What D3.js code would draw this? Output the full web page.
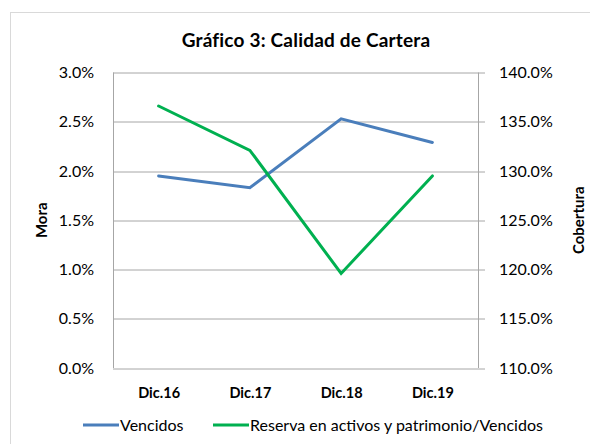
<!DOCTYPE html>
<html>
<head>
    <meta charset="utf-8">
    <title>Gráfico 3</title>
    <script src="https://cdn.jsdelivr.net/npm/d3@7/dist/d3.min.js"></script>
    <style>
        body { margin: 0; background: #fff; }
        svg text { font-family: Lato, "Open Sans", sans-serif; fill: #000; }
    </style>
</head>
<body>
    <svg width="590" height="444"></svg>

    <script>
        // datos
        var periodos = ["Dic.16", "Dic.17", "Dic.18", "Dic.19"];
        var vencidos = [1.95, 1.83, 2.53, 2.29];          // Mora, eje izquierdo
        var reserva = [136.6, 132.1, 119.6, 129.5];       // Cobertura, eje derecho
        var ticksMora = [0, 0.5, 1, 1.5, 2, 2.5, 3];
        var ticksCob = [110, 115, 120, 125, 130, 135, 140];

        var svg = d3.select("svg");
        var marge = { top: 72.5, bottom: 76, left: 113, right: 112 };
        var width = 590 - marge.left - marge.right;
        var height = 444 - marge.top - marge.bottom;

        // marco exterior
        svg.append("rect")
            .attr("x", 10.5).attr("y", 12.5)
            .attr("width", 600).attr("height", 460)
            .attr("fill", "none").attr("stroke", "#d9d9d9");

        svg.append("text")
            .attr("x", 306).attr("y", 47)
            .attr("text-anchor", "middle")
            .attr("font-size", 19).attr("font-weight", "bold")
            .attr("letter-spacing", 0.2)
            .text("Gráfico 3: Calidad de Cartera");

        var g = svg.append("g")
            .attr("transform", "translate(" + marge.left + "," + marge.top + ")");

        var x = d3.scalePoint().domain(periodos).range([0, width]).padding(0.5);
        var yL = d3.scaleLinear().domain([0, 3]).range([height, 0]);
        var yR = d3.scaleLinear().domain([110, 140]).range([height, 0]);

        // lineas de cuadricula
        g.append("g").selectAll("line")
            .data(ticksMora)
            .enter().append("line")
            .attr("x1", 0).attr("x2", width + 7)
            .attr("y1", function (d) { return Math.round(yL(d)) + 0.5; })
            .attr("y2", function (d) { return Math.round(yL(d)) + 0.5; })
            .attr("stroke", "#a6a6a6").attr("stroke-width", 1);

        g.append("line")
            .attr("x1", 0.5).attr("x2", 0.5).attr("y1", 0).attr("y2", height)
            .attr("stroke", "#a6a6a6");
        g.append("line")
            .attr("x1", width + 0.5).attr("x2", width + 0.5).attr("y1", 0).attr("y2", height)
            .attr("stroke", "#a6a6a6");

        // eje izquierdo
        var axisL = g.append("g")
            .call(d3.axisLeft(yL).tickValues(ticksMora).tickSize(0).tickPadding(19)
                .tickFormat(function (d) { return d.toFixed(1) + "%"; }));
        axisL.select(".domain").remove();

        // eje derecho
        var axisR = g.append("g")
            .attr("transform", "translate(" + width + ",0)")
            .call(d3.axisRight(yR).tickValues(ticksCob).tickSize(0).tickPadding(21)
                .tickFormat(function (d) { return d.toFixed(1) + "%"; }));
        axisR.select(".domain").remove();

        // eje x
        var axisX = g.append("g")
            .attr("transform", "translate(0," + height + ")")
            .call(d3.axisBottom(x).tickSize(0).tickPadding(20));
        axisX.select(".domain").remove();

        svg.selectAll(".tick text")
            .attr("font-family", "Lato, 'Open Sans', sans-serif")
            .attr("font-size", 16)
            .attr("fill", "#000");
        axisX.selectAll("text").attr("font-weight", "bold").attr("font-size", 14.5);

        svg.append("text")
            .attr("transform", "translate(47," + (marge.top + height / 2) + ") rotate(-90)")
            .attr("text-anchor", "middle")
            .attr("font-size", 15).attr("font-weight", "bold")
            .text("Mora");
        svg.append("text")
            .attr("transform", "translate(584," + (marge.top + height / 2) + ") rotate(-90)")
            .attr("text-anchor", "middle")
            .attr("font-size", 15).attr("font-weight", "bold")
            .text("Cobertura");

        var lineaL = d3.line()
            .x(function (d, i) { return x(periodos[i]); })
            .y(function (d) { return yL(d); });
        var lineaR = d3.line()
            .x(function (d, i) { return x(periodos[i]); })
            .y(function (d) { return yR(d); });

        g.append("path").datum(vencidos)
            .attr("d", lineaL)
            .attr("fill", "none").attr("stroke", "#4a7ebb")
            .attr("stroke-width", 3).attr("stroke-linecap", "round");
        g.append("path").datum(reserva)
            .attr("d", lineaR)
            .attr("fill", "none").attr("stroke", "#00b050")
            .attr("stroke-width", 3).attr("stroke-linecap", "round");

        // leyenda
        var leyenda = [
            { nombre: "Vencidos", color: "#4a7ebb", x: 83 },
            { nombre: "Reserva en activos y patrimonio/Vencidos", color: "#00b050", x: 213 }
        ];
        var lg = svg.append("g").selectAll("g")
            .data(leyenda)
            .enter().append("g")
            .attr("transform", function (d) { return "translate(" + d.x + ",425)"; });
        lg.append("line")
            .attr("x1", 0).attr("x2", 36)
            .attr("stroke", function (d) { return d.color; })
            .attr("stroke-width", 3);
        lg.append("text")
            .attr("x", 37).attr("y", 5.5)
            .attr("font-size", 16)
            .text(function (d) { return d.nombre; });
    </script>
</body>
</html>
